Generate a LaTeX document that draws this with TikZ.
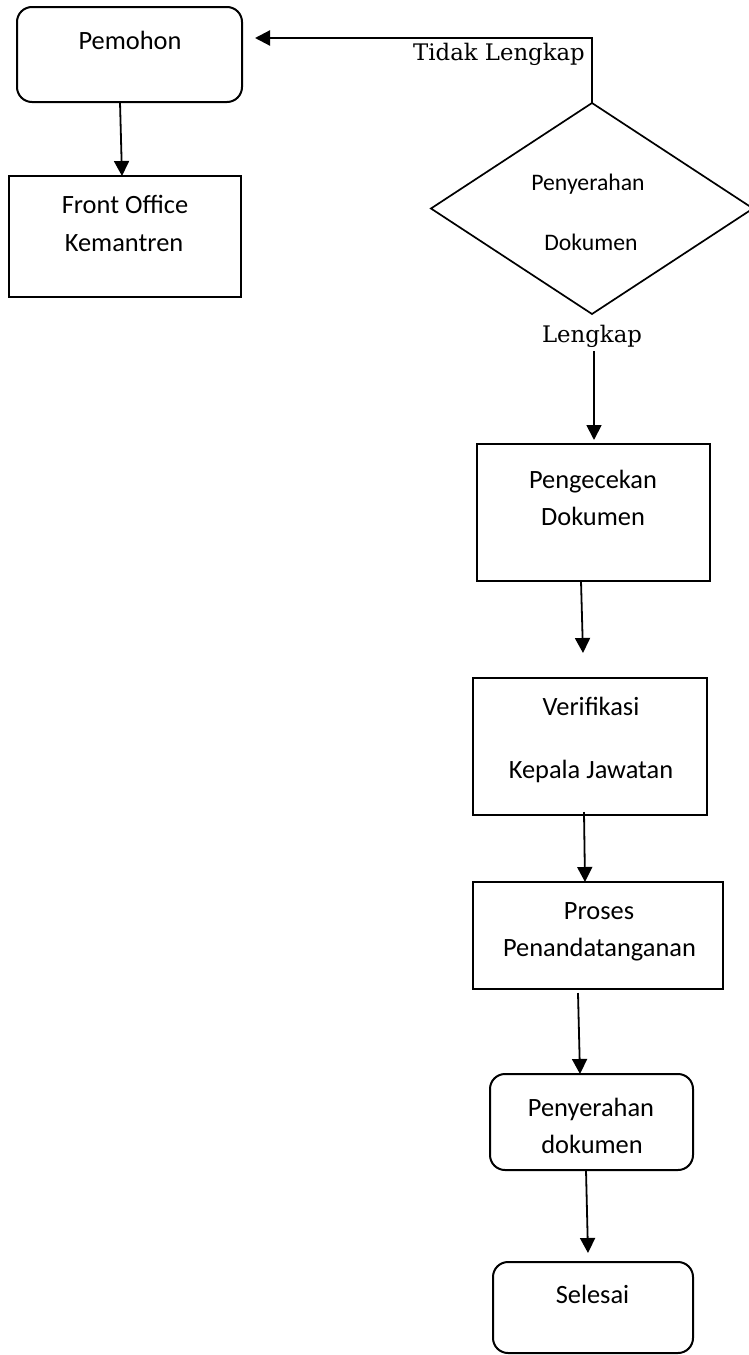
\documentclass[tikz,border=0pt]{standalone}
\usepackage{fontspec}
\setmainfont{Carlito}
\newfontfamily\lblfont{DejaVu Serif}
\usetikzlibrary{arrows.meta,shapes.geometric}
\tikzset{
  boxthin/.style={draw, line width=2pt, rounded corners=15pt, inner sep=0pt, outer sep=0pt},
  boxthick/.style={draw, line width=2.8pt, inner sep=0pt, outer sep=0pt},
  txt/.style={anchor=base, inner sep=0pt, font=\fontsize{26.4pt}{30pt}\selectfont},
  dtxt/.style={anchor=base, inner sep=0pt, font=\fontsize{23.7pt}{28pt}\selectfont},
  lbl/.style={anchor=base, inner sep=0pt, font=\lblfont\fontsize{22.8pt}{27pt}\selectfont},
  arr/.style={line width=1.8pt, -{Triangle[length=15pt,width=15pt]}},
}
\begin{document}
\begin{tikzpicture}[x=1pt,y=-1pt]
\useasboundingbox (0,0) rectangle (749,1355);
% boxes
\node[boxthin, minimum width=225pt, minimum height=95pt] (pem) at (129.5,54.5) {};
\node[boxthick, minimum width=232pt, minimum height=121pt] (fo) at (125,236.5) {};
\node[draw, line width=1.7pt, diamond, inner sep=0pt, outer sep=0pt, minimum width=322pt, minimum height=211pt] (dia) at (592,208.5) {};
\node[boxthick, minimum width=233pt, minimum height=137pt] (pc) at (593.5,512.5) {};
\node[boxthick, minimum width=234pt, minimum height=137pt] (vk) at (590,746.5) {};
\node[boxthick, minimum width=250pt, minimum height=107pt] (pr) at (598,935.5) {};
\node[boxthin, minimum width=203pt, minimum height=96pt] (pd) at (591.5,1122) {};
\node[boxthin, minimum width=200pt, minimum height=91pt] (sl) at (593,1307.5) {};
% texts
\node[txt] (tpem) at (130,49) {Pemohon};
\node[txt] (tfo1) at (125,213) {Front Office};
\node[txt] (tfo2) at (124,251) {Kemantren};
\node[dtxt] (tdia1) at (588,190) {Penyerahan};
\node[dtxt] (tdia2) at (591,250) {Dokumen};
\node[lbl] (ttl) at (499,60) {Tidak Lengkap};
\node[lbl] (lk) at (592,342) {Lengkap};
\node[txt] (tpc1) at (593,488) {Pengecekan};
\node[txt] (tpc2) at (593,525) {Dokumen};
\node[txt] (tvk1) at (591,715) {Verifikasi};
\node[txt] (tvk2) at (591,778) {Kepala Jawatan};
\node[txt] (tpr1) at (599,919) {Proses};
\node[txt] (tpr2) at (599.5,956) {Penandatanganan};
\node[txt] (tpd1) at (591,1116) {Penyerahan};
\node[txt] (tpd2) at (592,1153) {dokumen};
\node[txt] (tsl) at (592.5,1303) {Selesai};
% connectors
\coordinate (tl) at (255,38);
\draw[arr] ([xshift=-9.5pt]pem.south) -- ([xshift=-3pt]fo.north);
\draw[arr, line width=2.2pt] (dia.north) |- (tl);
\draw[arr] ([xshift=2pt,yshift=-4pt]lk.south) -- ([xshift=0.5pt,yshift=4pt]pc.north);
\draw[arr] ([xshift=-12.5pt]pc.south) -- ([xshift=-7pt,yshift=25pt]vk.north);
\draw[arr] ([xshift=-6pt,yshift=3pt]vk.south) -- ([xshift=-13pt]pr.north);
\draw[arr] ([xshift=-20pt,yshift=-4pt]pr.south) -- ([xshift=-11.5pt]pd.north);
\draw[arr] ([xshift=-5.5pt]pd.south) -- ([xshift=-5pt,yshift=9pt]sl.north);
\end{tikzpicture}
\end{document}
